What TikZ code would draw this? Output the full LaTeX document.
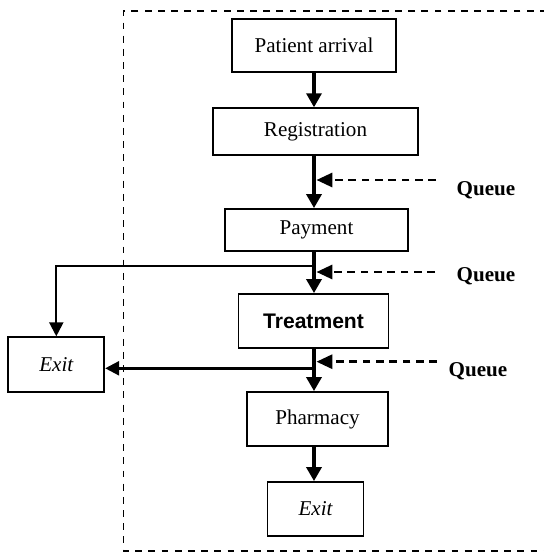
\documentclass[tikz,border=0pt]{standalone}
\usepackage{fontspec}
\setmainfont{Liberation Serif}
\newfontfamily\arialfont{Liberation Sans}
\usetikzlibrary{arrows.meta}

\begin{document}
\begin{tikzpicture}[x=0.02cm,y=-0.02cm,
  box/.style={draw,line width=1pt,inner sep=0pt,font=\fontsize{12}{14}\selectfont},
  flow/.style={line width=2.5pt,-{Triangle[length=8pt,width=8.5pt]}},
  wait/.style={line width=1.5pt,dash pattern=on 4.4pt off 3.2pt,-{Triangle[length=9pt,width=8pt]}},
  branch/.style={line width=1.2pt,-{Triangle[length=8pt,width=8pt]}},
  qlabel/.style={font=\fontsize{12}{14}\selectfont\bfseries}]
\clip (0,0) rectangle (544,552);
% system boundary
\draw[line width=0.9pt,dash pattern=on 3.9pt off 3.6pt] (560,11) -- (123.5,11) -- (123.5,551) -- (560,551);

% process steps
\node[box,minimum width=3.28cm,minimum height=1.06cm] (arr) at (314,45.5) {Patient arrival};
\node[box,minimum width=4.1cm,minimum height=0.94cm] (reg) at (315.5,131.7) {Registration};
\node[box,minimum width=3.66cm,minimum height=0.84cm] (pay) at (316.5,230) {Payment};
\node[box,minimum width=3cm,minimum height=1.08cm,font=\fontsize{12}{14}\arialfont\bfseries] (treat) at (313.5,321) {Treatment};
\node[box,minimum width=2.82cm,minimum height=1.08cm] (pharm) at (317.5,419) {Pharmacy};
\node[box,minimum width=1.92cm,minimum height=1.08cm,font=\fontsize{12}{14}\selectfont\itshape] (exitb) at (315.5,509) {Exit};
\node[box,minimum width=1.92cm,minimum height=1.1cm,font=\fontsize{12}{14}\selectfont\itshape] (exitl) at (56.3,364.7) {Exit};

% main flow
\draw[flow] (arr.south -| 314,0) -- (reg.north -| 314,0);
\draw[flow] (reg.south -| 314,0) -- (pay.north -| 314,0);
\draw[flow] (pay.south -| 314,0) -- (treat.north -| 314,0);
\draw[flow] (treat.south -| 314,0) -- (pharm.north -| 314,0);
\draw[flow] (pharm.south -| 314,0) -- (exitb.north -| 314,0);

% queues
\node[qlabel] (q1) at (486,190) {Queue};
\node[qlabel] (q2) at (486,276) {Queue};
\node[qlabel] (q3) at (478,371.7) {Queue};
\coordinate (q1s) at (436,180);
\coordinate (q2s) at (435,272);
\coordinate (q3s) at (437,361.7);
\draw[wait] (q1s) -- (316.5,180);
\draw[wait] (q2s) -- (316.5,272);
\draw[wait] (q3s) -- (316.5,361.7);

% early exits
\coordinate (split1) at (314,265.7);
\coordinate (split2) at (314,368.3);
\draw[branch] (split1) -| (exitl.north);
\draw[branch,line width=1.4pt] (split2) -- (split2 -| exitl.east);
\end{tikzpicture}
\end{document}
